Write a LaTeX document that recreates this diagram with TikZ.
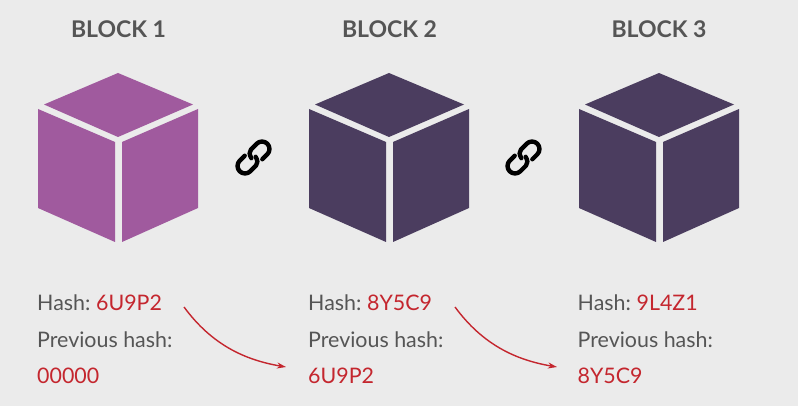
\documentclass[tikz,border=0pt]{standalone}
\usepackage{fontspec}
\setmainfont{Lato}
\usetikzlibrary{arrows.meta}
\definecolor{pagebg}{HTML}{EBEBEB}
\definecolor{inkgray}{HTML}{555555}
\definecolor{hashred}{HTML}{C4262E}
\definecolor{genesis}{HTML}{A05A9E}
\definecolor{chained}{HTML}{4B3D5F}
\tikzset{
  x=1pt,y=-1pt,
  title/.style={anchor=base,inner sep=0pt,text=inkgray,font=\fontsize{23}{26}\selectfont\bfseries},
  info/.style={anchor=base west,inner sep=0pt,text=inkgray,font=\fontsize{21.4}{24}\selectfont},
  hashlink/.style={draw=hashred,line width=1.4pt,-{Stealth[length=9pt,width=6pt]}},
  chainlink/.style={draw=black,line width=4.4pt,line cap=round,line join=round}
}
% isometric cube built from three faces, shifted along x
\newcommand{\blockcube}[2]{%
  \begin{scope}[xshift=#1pt]
    \fill[#2] (118,73) -- (193,104.5) -- (118,137) -- (44,104.5) -- cycle;
    \fill[#2] (38,109) -- (115,142) -- (115,242) -- (38,208) -- cycle;
    \fill[#2] (122,142) -- (198,109) -- (198,208) -- (122,242) -- cycle;
  \end{scope}}
% pair of interlocked chain links, centred on the given point
\newcommand{\chainicon}[2]{%
  \begin{scope}[shift={(#1,#2)},rotate=45,x=1pt,y=1pt]
    \draw[chainlink] (-2,1) .. controls (-1,5) and (1,7.5) .. (4,7.5) -- (12,7.5)
      arc[start angle=90,end angle=-90,radius=7.5] -- (5,-7.5);
    \draw[chainlink] (2,-1) .. controls (1,-5) and (-1,-7.5) .. (-4,-7.5) -- (-12,-7.5)
      arc[start angle=270,end angle=90,radius=7.5] -- (-5,7.5);
  \end{scope}}
\newcommand{\hashline}[1]{Hash:\hspace{-1.6pt} \textcolor{hashred}{#1}}
\begin{document}
\begin{tikzpicture}
  \fill[pagebg] (0,0) rectangle (798,406);
  \useasboundingbox (0,0) rectangle (798,406);

  \node[title] (t1) at (118.5,38) {BLOCK 1};
  \node[title] (t2) at (389.5,38) {BLOCK 2};
  \node[title] (t3) at (659,38) {BLOCK 3};

  \blockcube{0}{genesis}
  \blockcube{271}{chained}
  \blockcube{541}{chained}

  \chainicon{253.5}{157.5}
  \chainicon{523.5}{157.5}

  \node[info] (h1) at (37,310) {\hashline{6U9P2}};
  \node[info] (p1) at (37,347) {Previous hash:};
  \node[info,text=hashred] (v1) at (37,383) {00000};

  \node[info] (h2) at (308,310) {\hashline{8Y5C9}};
  \node[info] (p2) at (308,347) {Previous hash:};
  \node[info,text=hashred] (v2) at (308,383) {6U9P2};

  \node[info] (h3) at (577.5,310) {\hashline{9L4Z1}};
  \node[info] (p3) at (577.5,347) {Previous hash:};
  \node[info,text=hashred] (v3) at (577.5,383) {8Y5C9};

  \coordinate (a1) at (184,307);
  \coordinate (b1) at (286,367);
  \coordinate (a2) at (455,307);
  \coordinate (b2) at (557,367);
  \draw[hashlink] (a1) .. controls (212,345) and (245,360) .. (b1);
  \draw[hashlink] (a2) .. controls (483,345) and (516,360) .. (b2);
\end{tikzpicture}
\end{document}
